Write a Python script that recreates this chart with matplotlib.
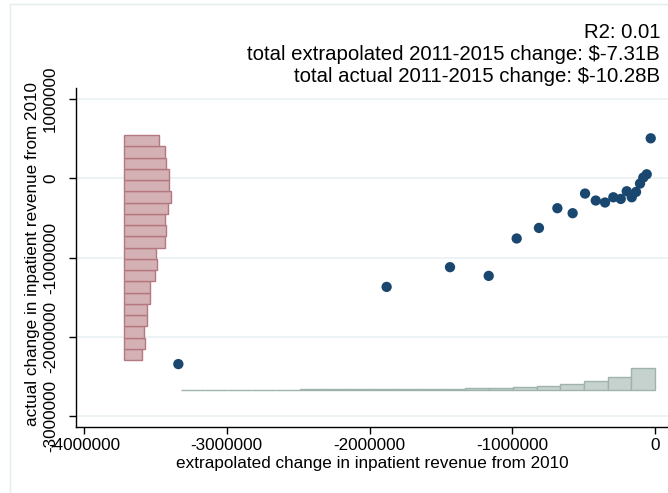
import matplotlib
matplotlib.use("Agg")
import matplotlib.pyplot as plt
from matplotlib.lines import Line2D
import numpy as np

plt.rcParams['font.family'] = ['Liberation Sans', 'DejaVu Sans']

# binned scatter: extrapolated vs actual change in inpatient revenue (dollars)
extrapolated = [-3339000, -1880000, -1436000, -1165000, -969000, -813000, -684000,
                -577000, -490000, -415000, -350000, -292000, -240000, -198000,
                -163000, -133000, -105000, -82000, -58000, -30000]
actual = [-2345000, -1371000, -1122000, -1232000, -760000, -627000, -378000,
          -441000, -193000, -281000, -306000, -240000, -261000, -164000,
          -240000, -173000, -67000, 9000, 50000, 504000]

# marginal histogram of actual change (horizontal bars, bottom to top)
yhist_lo, yhist_hi = -2295000, 546000
yhist_len = [124000, 147000, 140000, 161000, 161000, 182000, 177000, 217000, 231000,
             224000, 282000, 292000, 287000, 308000, 327000, 310000, 315000, 292000,
             287000, 240000]
yhist_base = -3718000

# marginal histogram of extrapolated change (vertical bars, left to right)
xhist_lo, xhist_hi = -3320000, 0
xhist_len = [6000, 6000, 6000, 6000, 6000, 9000, 9000, 9000, 13000, 13000, 16000,
             16000, 21000, 29000, 42000, 54000, 79000, 110000, 168000, 277000]
xhist_base = -2673000

xticks = [-4000000, -3000000, -2000000, -1000000, 0]
yticks = [-3000000, -2000000, -1000000, 0, 1000000]

title_lines = ["R2: 0.01",
               "total extrapolated 2011-2015 change: $-7.31B",
               "total actual 2011-2015 change: $-10.28B"]

W, H = 668, 493
fig = plt.figure(figsize=(W / 100, H / 100), dpi=100)
ax = fig.add_axes([76 / W, (H - 427) / H, (W - 76) / W, (427 - 88) / H])

grid_c = "#e8eff1"
for yt in yticks:
    ax.axhline(yt, color=grid_c, lw=1.1, zorder=0)

# left histogram
ny = len(yhist_len)
yedges = np.linspace(yhist_lo, yhist_hi, ny + 1)
ax.barh(yedges[:-1], yhist_len, height=np.diff(yedges), left=yhist_base,
        align='edge', color="#d4b1b4", edgecolor="#b47880", linewidth=1.0, zorder=2)

# bottom histogram
nx = len(xhist_len)
xedges = np.linspace(xhist_lo, xhist_hi, nx + 1)
ax.bar(xedges[:-1], xhist_len, width=np.diff(xedges), bottom=xhist_base,
       align='edge', color="#c6d2cd", edgecolor="#9fb3aa", linewidth=1.0, zorder=2)

ax.scatter(extrapolated, actual, s=55, color="#1a476f", edgecolors='none', zorder=3)

ax.set_xlim(-4056000, 91000)
ax.set_ylim(-3139000, 1139000)
ax.set_xticks(xticks)
ax.set_xticklabels([str(v) for v in xticks])
ax.set_yticks(yticks)
ax.set_yticklabels([str(v) for v in yticks], rotation=90, va='center')
ax.tick_params(axis='both', direction='out', length=5, width=1, labelsize=12.3,
               color='black')
ax.tick_params(axis='x', pad=3)
ax.tick_params(axis='y', pad=8)
for s in ['top', 'right']:
    ax.spines[s].set_visible(False)
for s in ['left', 'bottom']:
    ax.spines[s].set_linewidth(1)
    ax.spines[s].set_color('black')

ax.set_xlabel("extrapolated change in inpatient revenue from 2010", fontsize=12.3, labelpad=2)
ax.set_ylabel("actual change in inpatient revenue from 2010", fontsize=12.3)
ax.yaxis.set_label_coords((40 - 76) / (W - 76), 0.51)

for i, t in enumerate(title_lines):
    fig.text(660 / W, 1 - (33 + 22 * i) / H, t, ha='right', va='center', fontsize=14.7)

# light outer frame of the graph region
frame_c = "#e3ecee"
fig.add_artist(Line2D([10 / W, 1], [1 - 4 / H, 1 - 4 / H], transform=fig.transFigure,
                      color=frame_c, lw=1))
fig.add_artist(Line2D([10 / W, 10 / W], [0, 1 - 4 / H], transform=fig.transFigure,
                      color=frame_c, lw=1))

fig.savefig("out.png", dpi=100)
